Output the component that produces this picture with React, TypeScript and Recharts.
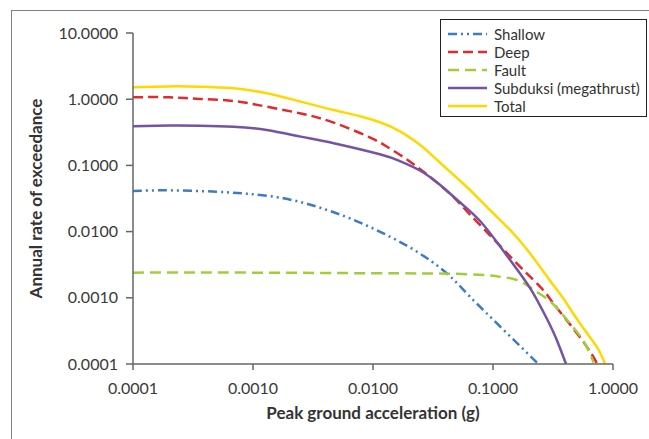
import React from 'react';
import { LineChart, Line, XAxis, YAxis } from 'recharts';

// peak ground acceleration (g) / annual rate per curve
const shallowX = [0.0001, 0.0002, 0.0005, 0.00094, 0.0018, 0.0034, 0.0064, 0.0122, 0.0231, 0.0411, 0.0643, 0.122, 0.239];
const shallowY = [0.041, 0.042, 0.04, 0.037, 0.0318, 0.0238, 0.0159, 0.0094, 0.005, 0.00235, 0.00104, 0.00033, 0.0001];

const deepX = [0.0001, 0.0002, 0.00036, 0.00069, 0.0013, 0.0025, 0.0047, 0.0094, 0.013, 0.0179, 0.0246, 0.034, 0.0467, 0.0643, 0.0944, 0.158, 0.203, 0.262, 0.317, 0.411, 0.604, 0.74];
const deepY = [1.07, 1.07, 1.01, 0.94, 0.77, 0.61, 0.443, 0.265, 0.193, 0.134, 0.0883, 0.0554, 0.0334, 0.0181, 0.0088, 0.0033, 0.0021, 0.00131, 0.00083, 0.00046, 0.000183, 0.0001];

const faultX = [0.0001, 0.001, 0.01, 0.05, 0.1, 0.114, 0.158, 0.215, 0.3, 0.4, 0.56, 0.69];
const faultY = [0.0024, 0.0024, 0.00235, 0.0023, 0.00215, 0.00208, 0.00186, 0.00135, 0.00088, 0.0005, 0.00023, 0.000105];

const subduksiX = [0.0001, 0.0002, 0.00036, 0.00069, 0.0013, 0.0025, 0.0047, 0.0114, 0.0168, 0.0246, 0.0359, 0.0527, 0.0774, 0.114, 0.168, 0.216, 0.28, 0.338, 0.406];
const subduksiY = [0.39, 0.4, 0.398, 0.385, 0.343, 0.272, 0.216, 0.147, 0.116, 0.0838, 0.0514, 0.028, 0.0147, 0.00605, 0.00233, 0.00118, 0.00049, 0.000236, 0.0001];

const totalX = [0.0001, 0.0002, 0.00036, 0.00069, 0.0013, 0.0025, 0.0047, 0.0078, 0.0114, 0.0168, 0.0246, 0.0298, 0.0438, 0.0643, 0.0944, 0.1387, 0.203, 0.3, 0.385, 0.531, 0.731, 0.86];
const totalY = [1.51, 1.56, 1.545, 1.46, 1.23, 0.92, 0.687, 0.552, 0.448, 0.327, 0.205, 0.152, 0.0804, 0.0425, 0.0212, 0.0106, 0.0047, 0.0018, 0.00098, 0.00041, 0.000183, 0.0001];

const xTicks = [0.0001, 0.001, 0.01, 0.1, 1];
const yTicks = [0.0001, 0.001, 0.01, 0.1, 1, 10];

const toPoints = (xs: number[], ys: number[]) => xs.map((x, i) => ({ x, y: ys[i] }));

const series = [
  { name: 'Shallow', color: '#3B7BC8', dash: '9 4 2 4 2 4', data: toPoints(shallowX, shallowY) },
  { name: 'Deep', color: '#E3292B', dash: '10 5', data: toPoints(deepX, deepY) },
  { name: 'Fault', color: '#A2CD3A', dash: '11 6', data: toPoints(faultX, faultY) },
  { name: 'Subduksi (megathrust)', color: '#7453A6', dash: undefined, data: toPoints(subduksiX, subduksiY) },
  { name: 'Total', color: '#FFD800', dash: undefined, data: toPoints(totalX, totalY) },
];

const FONT = 'Lato, "Open Sans", sans-serif';
const AXIS = '#666666';

export default function App() {
  return (
    <div style={{ position: 'absolute', left: 0, top: 0, width: 649, height: 439, overflow: 'hidden', background: '#fff', fontFamily: FONT }}>
      <div style={{ position: 'absolute', left: 11, top: 10, width: 700, height: 500, border: '1.5px solid #808080' }} />
      <LineChart
        width={649}
        height={439}
        margin={{ top: 33, right: 36, bottom: 45, left: 53 }}
        style={{ position: 'absolute', left: 0, top: 0 }}
      >
        <XAxis
          dataKey="x"
          type="number"
          scale="log"
          domain={[0.0001, 1]}
          ticks={xTicks}
          allowDataOverflow
          height={30}
          tickSize={6}
          tickMargin={13}
          tickFormatter={(v: number) => v.toFixed(4)}
          tick={{ fill: '#3a3a3a', fontSize: 16, fontFamily: FONT }}
          axisLine={{ stroke: AXIS, strokeWidth: 1.5 }}
          tickLine={{ stroke: AXIS, strokeWidth: 1.5 }}
          label={{ value: 'Peak ground acceleration (g)', position: 'center', dy: 34, fill: '#333', fontSize: 17, fontWeight: 700, fontFamily: FONT }}
        />
        <YAxis
          dataKey="y"
          type="number"
          scale="log"
          domain={[0.0001, 10]}
          ticks={yTicks}
          allowDataOverflow
          width={80}
          tickSize={7}
          tickMargin={8}
          tickFormatter={(v: number) => v.toFixed(4)}
          tick={{ fill: '#3a3a3a', fontSize: 16, fontFamily: FONT }}
          axisLine={{ stroke: AXIS, strokeWidth: 1.5 }}
          tickLine={{ stroke: AXIS, strokeWidth: 1.5 }}
          label={{ value: 'Annual rate of exceedance', angle: -90, position: 'center', dx: -57, fill: '#333', fontSize: 17, fontWeight: 700, fontFamily: FONT }}
        />
        {series.map(s => (
          <Line
            key={s.name}
            data={s.data}
            dataKey="y"
            name={s.name}
            type="natural"
            stroke={s.color}
            strokeWidth={2.5}
            strokeDasharray={s.dash}
            dot={false}
            activeDot={false}
            isAnimationActive={false}
          />
        ))}
      </LineChart>
      <div style={{ position: 'absolute', left: 440, top: 19, width: 205, height: 96, border: '1px solid #222', background: '#fff' }}>
        {series.map((s, i) => (
          <div key={s.name} style={{ position: 'absolute', left: 0, top: 5 + i * 18, height: 18, display: 'flex', alignItems: 'center' }}>
            <svg width={53} height={18} style={{ display: 'block' }}>
              <line x1={7} x2={46} y1={9} y2={9} stroke={s.color} strokeWidth={2.5} strokeDasharray={s.dash} />
            </svg>
            <span style={{ fontSize: 15, color: '#333', whiteSpace: 'nowrap', lineHeight: '18px' }}>{s.name}</span>
          </div>
        ))}
      </div>
    </div>
  );
}
